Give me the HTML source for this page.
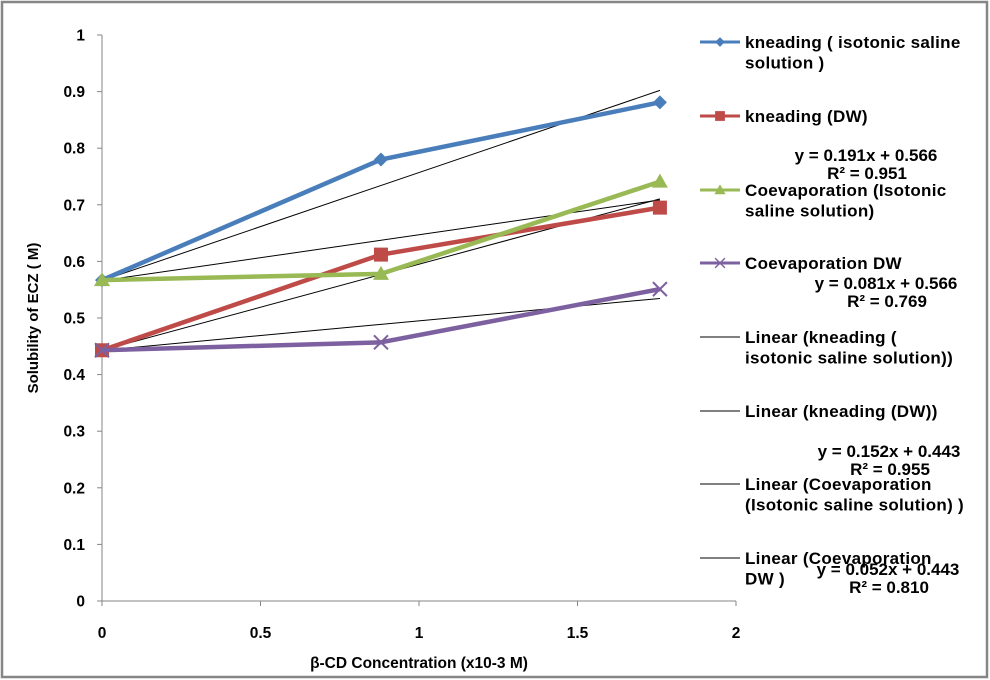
<!DOCTYPE html>
<html><head><meta charset="utf-8"><style>
body{margin:0;background:#fff}
svg{display:block;font-family:"Liberation Sans",sans-serif;font-weight:bold}
</style></head><body>
<svg id="c" width="990" height="680">
<rect x="2" y="2" width="985" height="675" fill="#fff" stroke="#868686" stroke-width="2.5"/>
<g id="axes"></g><g id="trends"></g><g id="series"></g><g id="legend"></g>
<text x="0" y="0" font-size="15" text-anchor="middle" transform="translate(38 318) rotate(-90)">Solubility of ECZ ( M)</text>
<text x="419" y="668" font-size="15.5" text-anchor="middle">β-CD Concentration (x10-3 M)</text>
</svg>
<script>
const xVals=[0,0.88,1.76];
const kneadIso=[0.567,0.78,0.881];
const kneadDW=[0.443,0.612,0.695];
const coevIso=[0.567,0.578,0.741];
const coevDW=[0.443,0.457,0.551];
const trendSlopes=[0.191,0.152,0.081,0.052];
const trendIntercepts=[0.566,0.443,0.566,0.443];
const yTicks=[0,0.1,0.2,0.3,0.4,0.5,0.6,0.7,0.8,0.9,1];
const xTicks=[0,0.5,1,1.5,2];
const NS="http://www.w3.org/2000/svg";
const X=v=>102+v*317, Y=v=>601-v*566;
function mk(t,a,p){const e=document.createElementNS(NS,t);for(const k in a)e.setAttribute(k,a[k]);document.getElementById(p).appendChild(e);return e;}
let e;
e=mk('line',{x1:102,y1:35,x2:102,y2:601,stroke:'#868686'},'axes');


e=mk('line',{x1:102,y1:601,x2:736,y2:601,stroke:'#868686'},'axes');


yTicks.forEach(t=>{mk('line',{x1:97,y1:Y(t),x2:102,y2:Y(t),stroke:'#868686'},'axes');
e=mk('text',{x:85,y:Y(t)+5.5,'font-size':15.5,'text-anchor':'end'},'axes');e.textContent=String(t);

});
xTicks.forEach(t=>{mk('line',{x1:X(t),y1:601,x2:X(t),y2:606,stroke:'#868686'},'axes');
e=mk('text',{x:X(t),y:638,'font-size':15.5,'text-anchor':'middle'},'axes');e.textContent=String(t);

});
const data=[kneadIso,kneadDW,coevIso,coevDW];
const cols=['#4a7ebb','#be4b48','#98b954','#7d60a0'];
const marks=['diamond','square','tri','x'];
function marker(m,x,y,c,p){
 if(m=='diamond')return mk('path',{d:`M${x} ${y-7}L${x+7} ${y}L${x} ${y+7}L${x-7} ${y}Z`,fill:c},p);
 if(m=='square')return mk('rect',{x:x-7,y:y-7,width:14,height:14,fill:c},p);
 if(m=='tri')return mk('path',{d:`M${x} ${y-8}L${x+8} ${y+6}L${x-8} ${y+6}Z`,fill:c},p);
 return mk('path',{d:`M${x-7} ${y-7}L${x+7} ${y+7}M${x+7} ${y-7}L${x-7} ${y+7}`,stroke:c,'stroke-width':2},p);}
const xEnd=xVals[xVals.length-1];
trendSlopes.forEach((b,i)=>{const a=trendIntercepts[i];
e=mk('line',{x1:X(0),y1:Y(a),x2:X(xEnd),y2:Y(a+b*xEnd),stroke:'#000','stroke-width':1},'trends');

});
data.forEach((s,k)=>{
 e=mk('polyline',{points:s.map((v,i)=>X(xVals[i])+','+Y(v)).join(' '),fill:'none',stroke:cols[k],'stroke-width':4.5,'stroke-linejoin':'round'},'series');
 
 
 s.forEach((v,i)=>{e=marker(marks[k],X(xVals[i]),Y(v),cols[k],'series');
 
 });
});
const L=[[42,0,["kneading ( isotonic saline","solution )"]],[116,1,["kneading (DW)"]],[190,2,["Coevaporation (Isotonic","saline solution)"]],[263,3,["Coevaporation DW"]],
[337,-1,["Linear (kneading (","isotonic saline solution))"]],[411,-1,["Linear (kneading (DW))"]],[484,-1,["Linear (Coevaporation","(Isotonic saline solution) )"]],[558,-1,["Linear (Coevaporation","DW  )"]]];
L.forEach(([y,k,lines])=>{
 const c=k>=0?cols[k]:'#000';
 e=mk('line',{x1:700,y1:y,x2:740,y2:y,stroke:c,'stroke-width':k>=0?3:1},'legend');
 
 
 if(k>=0){marker(marks[k],720,y,c,'legend').setAttribute('transform',`translate(${720*0.3} ${y*0.3}) scale(0.7)`);}
 lines.forEach((t,i)=>{e=mk('text',{x:745,y:y+6+i*20.5,'font-size':17,'letter-spacing':'0.3'},'legend');e.textContent=t;
 
 });
});
const eqs=[[866,155,"y = 0.191x + 0.566","R² = 0.951"],[886,283,"y = 0.081x + 0.566","R² = 0.769"],[889,451,"y = 0.152x + 0.443","R² = 0.955"],[888,569,"y = 0.052x + 0.443","R² = 0.810"]];
eqs.forEach(([x,y,a,b])=>{[a,b].forEach((t,i)=>{e=mk('text',{x:x+(i?1:0),y:y+6+i*18,'font-size':17,'text-anchor':'middle'},'legend');e.textContent=t;

});});
</script>
</body></html>
